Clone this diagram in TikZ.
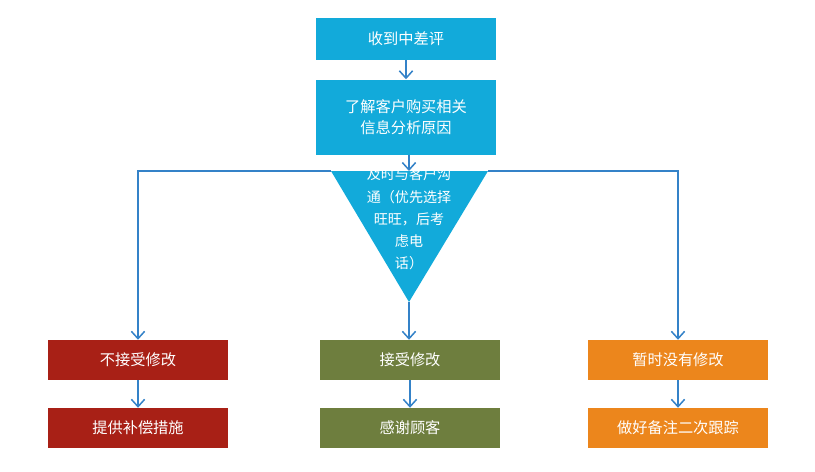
\documentclass[tikz,border=0pt]{standalone}
\usepackage{fontspec}
\setmainfont{Noto Sans CJK SC}
\definecolor{rv_blue}{RGB}{18, 170, 218}
\definecolor{rv_line}{RGB}{52, 130, 200}
\definecolor{rv_red}{RGB}{168, 32, 22}
\definecolor{rv_olive}{RGB}{110, 126, 62}
\definecolor{rv_orange}{RGB}{236, 134, 28}
\usetikzlibrary{arrows.meta, positioning, calc}

\begin{document}
\begin{tikzpicture}[
        x=0.03cm, y=-0.03cm,
        box/.style={rectangle, minimum width=5.4cm, inner sep=0pt,
                    text=white, font=\fontsize{13}{18}\selectfont, align=center},
        arr/.style={-{Straight Barb[length=2.2mm, width=4mm, line width=1.3pt]},
                    rv_line, line width=1.1pt},
      ]
        \useasboundingbox (0,0) rectangle (815,471);

        \node[box, fill=rv_blue, minimum height=1.26cm] (rcv) at (406, 39) {收到中差评};
        \node[box, fill=rv_blue, minimum height=2.25cm] (info) at (406, 117) {了解客户购买相关\\信息分析原因};

        % triangle
        \coordinate (tl) at (331, 171);
        \coordinate (tr) at (488, 171);
        \coordinate (tip) at (409, 302);
        \fill[rv_blue] (tl) -- (tr) -- (tip) -- cycle;
        \node[text=white, font=\fontsize{12}{19}\selectfont, align=center]
          (talk) at (409, 219) {及时与客户沟\\通（优先选择\\旺旺，后考\\虑电\\话）};

        \node[box, fill=rv_red,    minimum height=1.2cm] (rej)  at (138, 360) {不接受修改};
        \node[box, fill=rv_olive,  minimum height=1.2cm] (acc)  at (410, 360) {接受修改};
        \node[box, fill=rv_orange, minimum height=1.2cm] (wait) at (678, 360) {暂时没有修改};

        \node[box, fill=rv_red,    minimum height=1.2cm] (comp) at (138, 428) {提供补偿措施};
        \node[box, fill=rv_olive,  minimum height=1.2cm] (thx)  at (410, 428) {感谢顾客};
        \node[box, fill=rv_orange, minimum height=1.2cm] (note) at (678, 428) {做好备注二次跟踪};

        \draw[arr] (rcv) -- (info);
        \draw[arr] (info.south -| tip) -- (tip |- tl);
        \draw[arr] (tl) -| (rej.north);
        \draw[arr] (tr) -| (wait.north);
        \draw[arr] (tip) -- (acc.north -| tip);

        \draw[arr] (rej)  -- (comp);
        \draw[arr] (acc)  -- (thx);
        \draw[arr] (wait) -- (note);
      \end{tikzpicture}
\end{document}
